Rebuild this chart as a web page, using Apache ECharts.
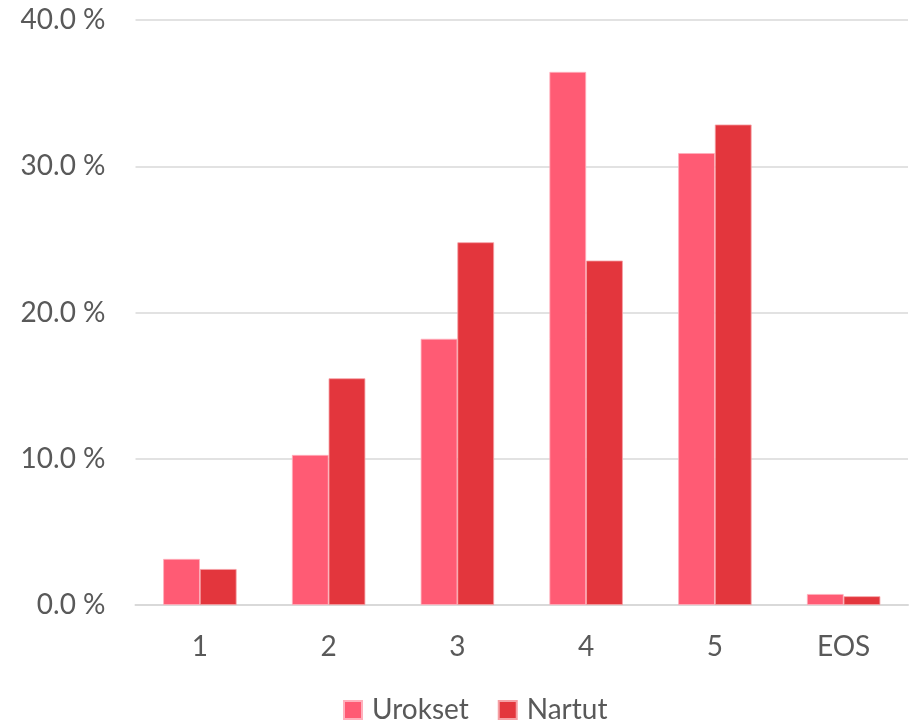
<!DOCTYPE html>
<html><head><meta charset="utf-8">
<script src="https://cdn.jsdelivr.net/npm/echarts@6/dist/echarts.min.js"></script>
<style>html,body{margin:0;padding:0;background:#fff}#c{width:911px;height:722px}</style>
</head><body><div id="c"></div>
<script>
const categories = ['1','2','3','4','5','EOS'];
const urokset = [3.15, 10.26, 18.2, 36.45, 30.9, 0.75];
const nartut = [2.46, 15.5, 24.8, 23.55, 32.85, 0.6];
const seriesNames = ['Urokset','Nartut'];
const FONT = 'Lato, "Open Sans", sans-serif';
const chart = echarts.init(document.getElementById('c'));
chart.setOption({
  animation:false,
  grid:{left:135.5,right:3,top:20,bottom:117,containLabel:false},
  legend:{left:343,top:696,padding:0,itemWidth:18,itemHeight:18,itemGap:29,icon:'rect',
    textStyle:{fontFamily:FONT,fontSize:28,color:'#595959',padding:[0,0,0,5],lineHeight:18},
    data:seriesNames},
  xAxis:{type:'category',data:categories,
    axisLine:{lineStyle:{color:'#D9D9D9',width:2}},axisTick:{show:false},
    axisLabel:{fontFamily:FONT,fontSize:28,color:'#595959',margin:28}},
  yAxis:{type:'value',min:0,max:40,interval:10,
    axisLine:{show:false},axisTick:{show:false},
    splitLine:{lineStyle:{color:'#D9D9D9',width:1.5}},
    axisLabel:{fontFamily:FONT,fontSize:28,color:'#595959',margin:30,
      formatter:v=>v.toFixed(1)+' %'}},
  series:[
    {name:seriesNames[0],type:'bar',data:urokset,barWidth:'28.5%',barGap:'0%',
      itemStyle:{color:'#FF5B74',borderColor:'#FFB0BC',borderWidth:0.8}},
    {name:seriesNames[1],type:'bar',data:nartut,barWidth:'28.5%',barGap:'0%',
      itemStyle:{color:'#E3363D',borderColor:'#F5A0A5',borderWidth:0.8}}
  ]
});
</script></body></html>
